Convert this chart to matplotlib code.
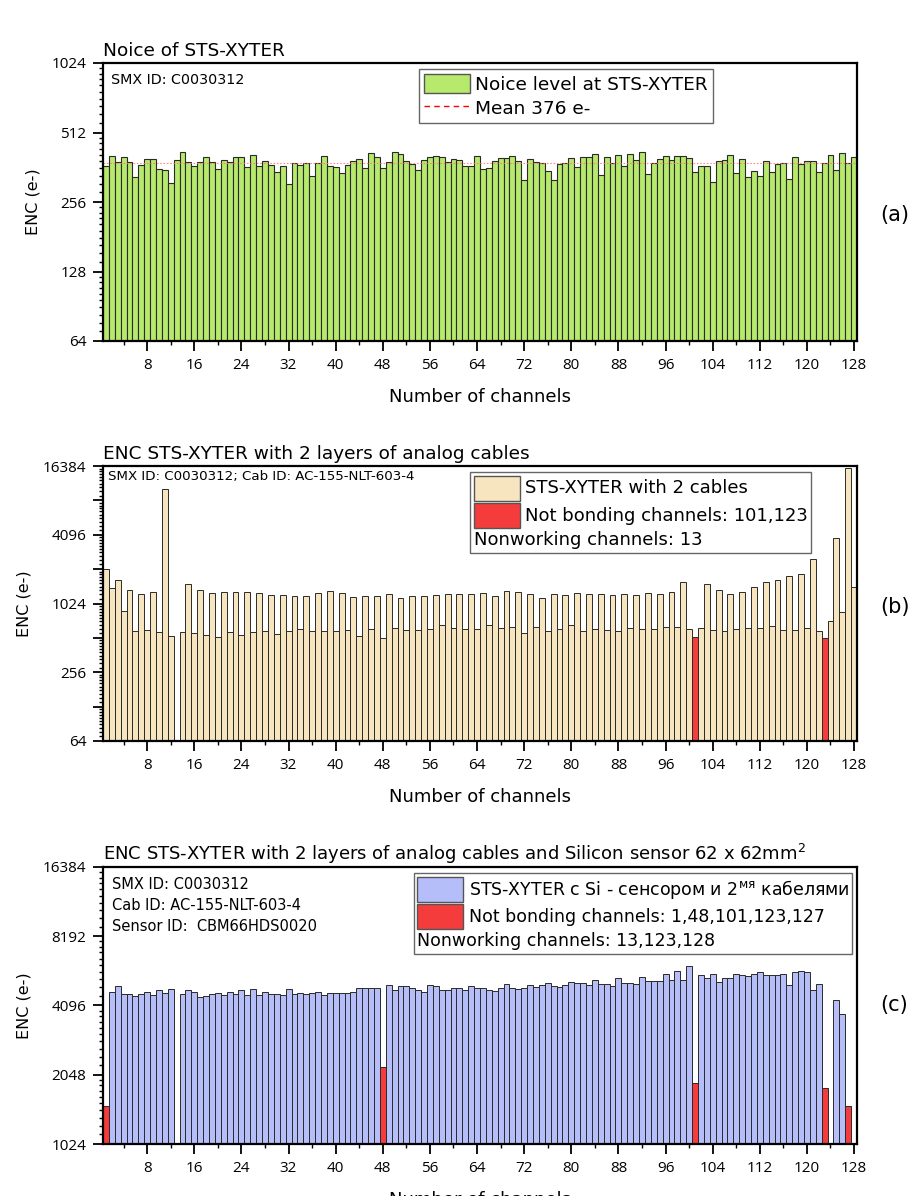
import numpy as np
import matplotlib
matplotlib.use("Agg")
import matplotlib.pyplot as plt
from matplotlib.patches import Patch, Rectangle
from matplotlib.lines import Line2D
from matplotlib.ticker import FixedLocator, LogLocator, FuncFormatter, NullFormatter
from matplotlib.offsetbox import (AnchoredOffsetbox, DrawingArea, HPacker,
                                  TextArea, VPacker)

# tick labels in Open Sans, everything else in DejaVu Sans (wider, closer to the original)
plt.rcParams['font.family'] = ['Open Sans', 'DejaVu Sans']
TXT = 'DejaVu Sans'

# channel numbers
channels = np.arange(1, 129)

# (a) noise of the bare chip, e-
noise_a = [366, 407, 381, 403, 382, 328, 369, 394, 392, 356,
           351, 309, 390, 423, 381, 366, 381, 400, 381, 356,
           389, 381, 400, 403, 362, 410, 366, 384, 369, 345,
           368, 305, 376, 371, 377, 332, 377, 406, 366, 362,
           341, 369, 384, 394, 358, 416, 400, 360, 381, 421,
           412, 384, 373, 354, 390, 400, 407, 401, 381, 392,
           390, 368, 368, 407, 356, 358, 384, 398, 398, 407,
           384, 320, 394, 381, 377, 348, 320, 373, 377, 396,
           363, 403, 401, 414, 335, 402, 377, 410, 366, 412,
           390, 421, 337, 379, 392, 407, 389, 407, 407, 398,
           345, 368, 366, 311, 384, 389, 410, 341, 395, 327,
           350, 333, 387, 345, 373, 379, 322, 400, 373, 384,
           387, 347, 379, 408, 351, 418, 377, 401]
mean_a = 376

nan = np.nan
# (b) chip + 2 cable layers
enc_b = [2050, 1390, 1640, 878, 1333, 588, 1235, 595, 1304, 572,
         10300, 535, nan, 575, 1530, 568, 1333, 542, 1277, 517,
         1294, 580, 1286, 542, 1304, 572, 1260, 591, 1219, 549,
         1219, 584, 1202, 608, 1187, 588, 1277, 588, 1320, 591,
         1269, 595, 1163, 532, 1187, 608, 1202, 510, 1235, 624,
         1140, 603, 1187, 595, 1195, 616, 1227, 663, 1244, 620,
         1235, 608, 1244, 612, 1277, 663, 1187, 620, 1313, 637,
         1304, 564, 1235, 637, 1140, 588, 1235, 616, 1219, 659,
         1269, 584, 1244, 612, 1244, 603, 1219, 588, 1252, 624,
         1219, 616, 1277, 608, 1235, 637, 1294, 637, 1583, 612,
         520, 629, 1510, 603, 1357, 588, 1235, 608, 1304, 620,
         1441, 629, 1572, 650, 1648, 603, 1773, 603, 1871, 624,
         2513, 591, 507, 713, 3830, 860, 15800, 1421]
red_b = [101, 123]

# (c) chip + cables + silicon sensor
enc_c = [1500, 4700, 4970, 4603, 4575, 4497, 4575, 4667, 4545, 4774,
         4637, 4841, nan, 4603, 4774, 4667, 4470, 4525, 4603, 4620,
         4545, 4683, 4603, 4776, 4560, 4815, 4560, 4710, 4603, 4603,
         4545, 4841, 4603, 4620, 4603, 4620, 4710, 4545, 4650, 4637,
         4637, 4620, 4683, 4890, 4860, 4860, 4860, 2205, 5005, 4776,
         4990, 4955, 4860, 4760, 4667, 5005, 4955, 4776, 4776, 4860,
         4880, 4774, 4970, 4900, 4880, 4774, 4750, 4860, 5055, 4890,
         4815, 4860, 5030, 4930, 5030, 5108, 4990, 4940, 5005, 5160,
         5108, 5150, 5005, 5282, 5055, 5080, 4990, 5390, 5150, 5130,
         5055, 5447, 5250, 5230, 5230, 5590, 5310, 5780, 5300, 6063,
         1877, 5550, 5400, 5620, 5180, 5390, 5390, 5600, 5550, 5480,
         5620, 5750, 5570, 5570, 5560, 5590, 5005, 5700, 5780, 5700,
         4800, 5055, 1786, nan, 4320, 3770, 1500, nan]
red_c = [1, 48, 101, 123, 127]

GREEN = '#b7e96c'
BEIGE = '#f6e5bf'
BLUE = '#b6befa'
RED = '#f53c3c'
EDGE = '#2a2a2a'

fig = plt.figure(figsize=(9.08, 11.96), dpi=100)
L, W = 103 / 908, 754 / 908
ax_a = fig.add_axes([L, 1 - 341 / 1196, W, 278 / 1196])
ax_b = fig.add_axes([L, 1 - 741 / 1196, W, 275 / 1196])
ax_c = fig.add_axes([L, 1 - 1144 / 1196, W, 277 / 1196])


def style_axes(ax, ylim, majors, labeled):
    ax.set_yscale('log', base=2)
    ax.set_xlim(0.5, 128.5)
    ax.set_ylim(*ylim)
    ax.xaxis.set_major_locator(FixedLocator(np.arange(8, 129, 8)))
    ax.xaxis.set_minor_locator(FixedLocator(np.arange(4, 129, 8)))
    ax.yaxis.set_major_locator(FixedLocator(majors))
    ax.yaxis.set_major_formatter(
        FuncFormatter(lambda v, p: f'{int(round(v))}' if int(round(v)) in labeled else ''))
    ax.yaxis.set_minor_locator(LogLocator(base=2, subs=np.arange(1.1, 2.0, 0.1)))
    ax.yaxis.set_minor_formatter(NullFormatter())
    ax.tick_params(which='major', direction='out', length=7, width=1.3, labelsize=11)
    ax.tick_params(which='minor', direction='out', length=3, width=1.0)
    ax.tick_params(axis='x', which='major', pad=5)
    ax.tick_params(axis='y', which='major', pad=5)
    ax.tick_params(top=False, right=False, which='both')
    for s in ax.spines.values():
        s.set_linewidth(1.6)
    ax.set_xlabel('Number of channels', fontsize=13, family=TXT, labelpad=11)
    ax.set_ylabel('ENC (e-)', fontsize=11.5, family=TXT, labelpad=8)


def custom_legend(ax, x0, top, entries, extra, fs):
    rows = []
    for color, label in entries:
        da = DrawingArea(33, 18, 0, 0)
        da.add_artist(Rectangle((0, 0), 33, 18, facecolor=color,
                                edgecolor='#555555', linewidth=1.0))
        ta = TextArea(label, textprops=dict(fontsize=fs, family=TXT))
        rows.append(HPacker(children=[da, ta], align='center', pad=0, sep=4))
    rows.append(TextArea(extra, textprops=dict(fontsize=fs, family=TXT)))
    box = VPacker(children=rows, align='left', pad=0, sep=2)
    ab = AnchoredOffsetbox(loc='upper left', child=box, pad=0.25, borderpad=0,
                           bbox_to_anchor=(x0, top), bbox_transform=ax.transAxes,
                           frameon=True)
    ab.patch.set_edgecolor('#666666')
    ab.patch.set_linewidth(1.0)
    ax.add_artist(ab)


# ---- (a) ----
ax_a.bar(channels, noise_a, width=1.0, color=GREEN, edgecolor=EDGE, linewidth=0.8)
ax_a.axhline(mean_a, color='#ff7070', linestyle=(0, (1.5, 1.5)), linewidth=0.8, alpha=0.8)
style_axes(ax_a, (64, 1024), [64, 128, 256, 512, 1024], {64, 128, 256, 512, 1024})
ax_a.set_title('Noice of STS-XYTER', loc='left', fontsize=13.3, family=TXT, pad=5)
ax_a.text(0.01, 0.965, 'SMX ID: C0030312', transform=ax_a.transAxes,
          fontsize=10.3, family=TXT, va='top', ha='left')
handles_a = [Patch(facecolor=GREEN, edgecolor='#555555', linewidth=1.0),
             Line2D([0], [0], color='red', linestyle=(0, (4, 3)), linewidth=1.0)]
leg = ax_a.legend(handles_a, ['Noice level at STS-XYTER', 'Mean 376 e-'],
                  loc='upper left', bbox_to_anchor=(0.419, 0.978),
                  prop=dict(size=13.3, family=TXT),
                  fancybox=False, framealpha=1, edgecolor='#666666',
                  handlelength=2.5, handleheight=1.25, handletextpad=0.3,
                  borderpad=0.25, labelspacing=0.25, borderaxespad=0)
leg.get_frame().set_linewidth(1.0)
fig.text(880 / 908, 1 - 215 / 1196, '(a)', fontsize=15, family=TXT, va='center', ha='left')

# ---- (b) ----
colors_b = [RED if c in red_b else BEIGE for c in channels]
ax_b.bar(channels, enc_b, width=1.0, color=colors_b, edgecolor=EDGE, linewidth=0.7)
style_axes(ax_b, (64, 16384), [64, 128, 256, 512, 1024, 2048, 4096, 8192, 16384],
           {64, 256, 1024, 4096, 16384})
ax_b.set_title('ENC STS-XYTER with 2 layers of analog cables', loc='left',
               fontsize=13.3, family=TXT, pad=5)
ax_b.text(0.007, 0.985, 'SMX ID: C0030312; Cab ID: AC-155-NLT-603-4',
          transform=ax_b.transAxes, fontsize=9.6, family=TXT, va='top', ha='left')
custom_legend(ax_b, 0.487, 0.978,
              [(BEIGE, 'STS-XYTER with 2 cables'),
               (RED, 'Not bonding channels: 101,123')],
              'Nonworking channels: 13', 13)
fig.text(880 / 908, 1 - 607 / 1196, '(b)', fontsize=15, family=TXT, va='center', ha='left')

# ---- (c) ----
colors_c = [RED if c in red_c else BLUE for c in channels]
ax_c.bar(channels, enc_c, width=1.0, color=colors_c, edgecolor=EDGE, linewidth=0.7)
style_axes(ax_c, (1024, 16384), [1024, 2048, 4096, 8192, 16384],
           {1024, 2048, 4096, 8192, 16384})
ax_c.set_title('ENC STS-XYTER with 2 layers of analog cables and Silicon sensor 62 x 62mm$^2$',
               loc='left', fontsize=13.0, family=TXT, pad=5)
ax_c.text(0.012, 0.965, 'SMX ID: C0030312\nCab ID: AC-155-NLT-603-4\nSensor ID:  CBM66HDS0020',
          transform=ax_c.transAxes, fontsize=10.5, family=TXT, va='top', ha='left',
          linespacing=1.5)
custom_legend(ax_c, 0.412, 0.978,
              [(BLUE, 'STS-XYTER с Si - сенсором и 2$^{\\mathrm{мя}}$ кабелями'),
               (RED, 'Not bonding channels: 1,48,101,123,127')],
              'Nonworking channels: 13,123,128', 12.5)
fig.text(880 / 908, 1 - 1005 / 1196, '(c)', fontsize=15, family=TXT, va='center', ha='left')

fig.savefig('out.png', dpi=100)
